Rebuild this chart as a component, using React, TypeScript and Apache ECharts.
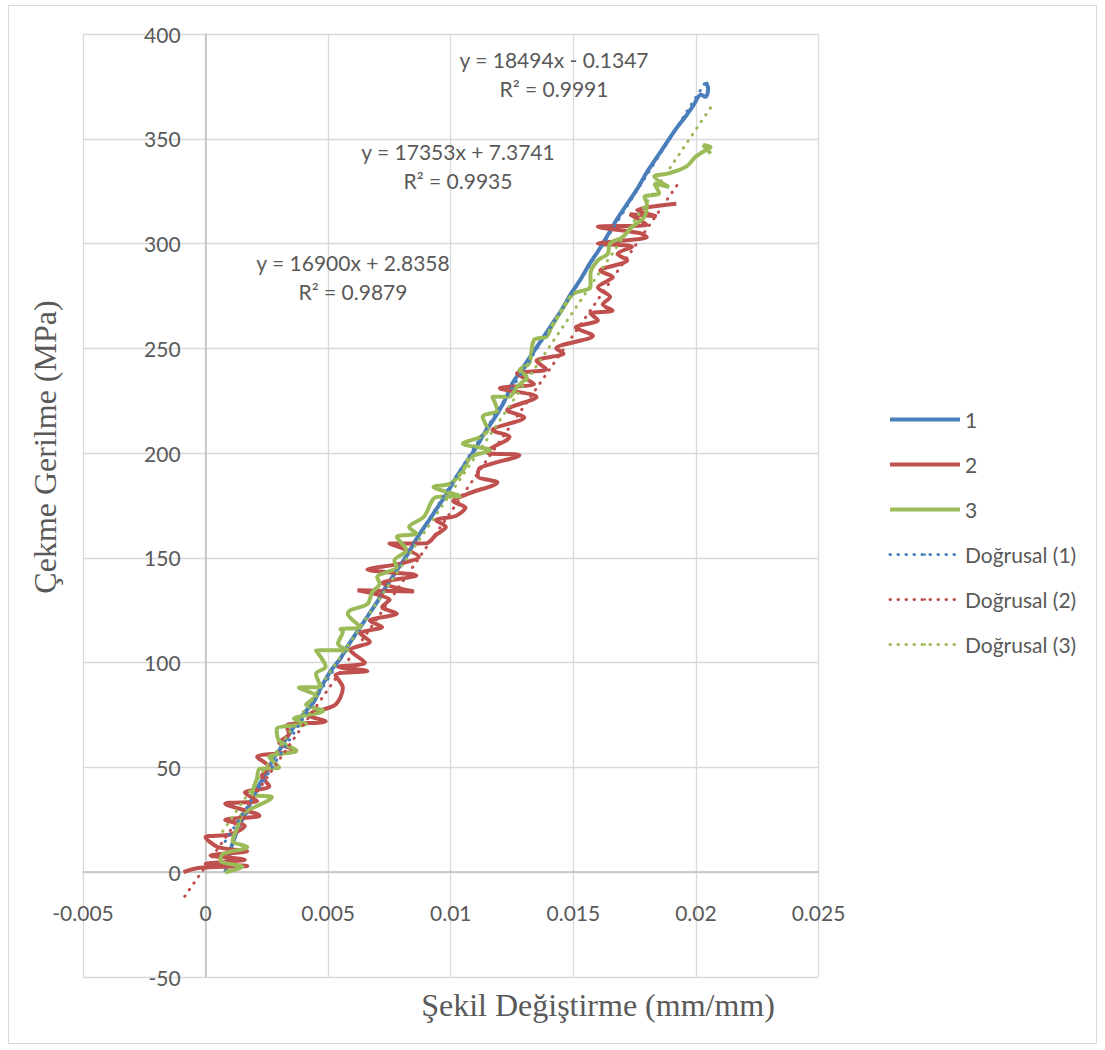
import React, { useEffect, useRef } from "react";
import * as echarts from "echarts";

const seriesNames = ["1", "2", "3"];
const trendNames = ["Doğrusal (1)", "Doğrusal (2)", "Doğrusal (3)"];
const colors = ["#4A7EBB", "#C0504D", "#9BBB59"];

const xTicks = { min: -0.005, max: 0.025, interval: 0.005 };
const yTicks = { min: -50, max: 400, interval: 50 };

const series1: [number, number][] = [
  [0.0008, 0], [0.0009, 4], [0.001, 10], [0.0012, 17], [0.0014, 23], [0.0017, 29.4],
  [0.0019, 35], [0.0022, 42], [0.0025, 48], [0.0028, 55], [0.003, 58], [0.0033, 64],
  [0.0037, 71], [0.0041, 77], [0.0044, 81], [0.0047, 88], [0.0051, 96], [0.0055, 102],
  [0.0058, 108], [0.0062, 115], [0.0066, 122], [0.007, 129], [0.0074, 137], [0.0078, 144],
  [0.0082, 151], [0.0086, 159], [0.009, 166], [0.0094, 173], [0.0098, 180], [0.0102, 188],
  [0.0106, 195], [0.011, 202], [0.0114, 210], [0.0118, 217], [0.0122, 225], [0.0125, 233],
  [0.0129, 240], [0.0133, 247], [0.0137, 254], [0.0141, 261], [0.0145, 268], [0.0149, 276],
  [0.0153, 283], [0.0157, 291], [0.0161, 298], [0.0165, 306], [0.0168, 312], [0.0172, 319],
  [0.0176, 326], [0.018, 334], [0.0184, 341], [0.0188, 348], [0.0192, 355], [0.0196, 361],
  [0.0199, 366], [0.0202, 371], [0.0204, 370], [0.0205, 374], [0.0204, 377],
];

const series2: [number, number][] = [
  [-0.0009, 0], [-0.0003, 2], [0.0017, 3], [0.0, 4], [0.0016, 6], [0.0002, 8],
  [0.0017, 10], [0.0005, 12], [0.0, 16.7], [0.001, 18], [0.0016, 22], [0.0008, 25],
  [0.0022, 27], [0.0008, 32.7], [0.0021, 34], [0.0016, 38], [0.0026, 41], [0.0023, 46],
  [0.0026, 50], [0.0021, 55], [0.0037, 58], [0.003, 62], [0.0034, 66], [0.0033, 70],
  [0.0049, 72], [0.0042, 75], [0.0053, 80], [0.0056, 88], [0.0053, 94], [0.0066, 96],
  [0.0054, 98], [0.0065, 100], [0.0059, 106], [0.0067, 110], [0.0063, 114], [0.0072, 117],
  [0.0067, 120], [0.0078, 123.5], [0.0072, 126.5], [0.0075, 130], [0.0062, 134.5], [0.0085, 134],
  [0.0072, 138], [0.0086, 141.6], [0.0066, 144.4], [0.008, 147.4], [0.0087, 150.4], [0.0075, 156.8],
  [0.009, 157], [0.0094, 161], [0.0098, 164.7], [0.0094, 168], [0.0102, 170], [0.0106, 174],
  [0.0101, 177], [0.0108, 181], [0.0119, 186], [0.0111, 189], [0.0112, 193], [0.0128, 199],
  [0.0115, 200], [0.0116, 202], [0.0124, 207.7], [0.0117, 211], [0.013, 217], [0.0123, 220.5],
  [0.0135, 226.8], [0.012, 231], [0.0134, 233], [0.0127, 238], [0.0139, 240], [0.0135, 244],
  [0.0146, 247.5], [0.0143, 250], [0.0158, 256], [0.0151, 260], [0.016, 263.4], [0.0157, 266.6],
  [0.0166, 268], [0.0162, 271], [0.0165, 274.5], [0.016, 279], [0.0166, 284], [0.0161, 287],
  [0.0172, 292], [0.0168, 295], [0.0174, 298.5], [0.016, 300], [0.018, 303], [0.0177, 305],
  [0.016, 308], [0.018, 309], [0.0173, 314], [0.0184, 313], [0.0176, 316], [0.0192, 319],
];

const series3: [number, number][] = [
  [0.0008, 0], [0.0015, 2.5], [0.0006, 5.5], [0.0007, 8.7], [0.0017, 12], [0.0011, 15],
  [0.0013, 21.4], [0.0015, 27.8], [0.0027, 35.8], [0.0019, 37.4], [0.0021, 45], [0.0022, 49.3],
  [0.003, 50], [0.0026, 55], [0.0037, 58], [0.003, 62.8], [0.0029, 68.4], [0.0041, 70.8],
  [0.0036, 73.2], [0.0048, 77], [0.0041, 80], [0.0045, 84], [0.0038, 88], [0.0047, 88.5],
  [0.0045, 94.7], [0.0049, 98], [0.0045, 105.8], [0.0058, 106], [0.0054, 109], [0.0056, 115],
  [0.0055, 116], [0.0063, 117], [0.0058, 123.4], [0.0059, 125], [0.0066, 128], [0.0068, 133.7],
  [0.0071, 137.7], [0.007, 140.8], [0.0078, 145.6], [0.0077, 148.8], [0.0082, 153.6], [0.0078, 160],
  [0.0086, 161.6], [0.0083, 164.7], [0.0089, 169.5], [0.0094, 179], [0.0104, 179.5], [0.0093, 183.8],
  [0.01, 185.5], [0.0105, 191.8], [0.0108, 198], [0.0116, 201.4], [0.0105, 204.5], [0.0112, 207.7],
  [0.0115, 211], [0.0113, 217.3], [0.0119, 220.5], [0.0117, 226.8], [0.0124, 227], [0.0127, 231.6],
  [0.0131, 236.4], [0.0128, 239.6], [0.0132, 242.8], [0.0134, 254], [0.0139, 255.5], [0.0141, 260],
  [0.0147, 271.4], [0.015, 276], [0.0157, 279.4], [0.0157, 285.8], [0.016, 292], [0.0164, 295],
  [0.0165, 300], [0.017, 303], [0.0174, 308], [0.0179, 312.8], [0.018, 319], [0.0179, 322.3],
  [0.0185, 324], [0.0183, 328.7], [0.0189, 327], [0.0183, 332], [0.0189, 333.5], [0.0196, 336.7],
  [0.02, 341.5], [0.0204, 344.6], [0.0206, 346], [0.0203, 347], [0.0206, 343],
];

// Trendline equations shown on the chart: y = slope * x + intercept
const trendSlopes = [18494, 16900, 17353];
const trendIntercepts = [-0.1347, 2.8358, 7.3741];
const trendXRanges: [number, number][] = [[0.0008, 0.0205], [-0.00085, 0.0193], [0.0007, 0.0207]];
const equationTexts = ["y = 18494x - 0.1347\nR² = 0.9991", "y = 16900x + 2.8358\nR² = 0.9879", "y = 17353x + 7.3741\nR² = 0.9935"];

const xTitle = "Şekil Değiştirme (mm/mm)";
const yTitle = "Çekme Gerilme (MPa)";

const FONT = "Lato, 'Open Sans', sans-serif";
const SERIF = "'Liberation Serif', 'Times New Roman', serif";
const TEXT_COLOR = "#595959";

export default function App() {
  const ref = useRef<HTMLDivElement>(null);
  useEffect(() => {
    if (!ref.current) return;
    const chart = echarts.init(ref.current, undefined, { renderer: "svg" });
    const dataSeries = [series1, series2, series3].map((d, i) => ({
      name: seriesNames[i],
      type: "line",
      data: d,
      showSymbol: false,
      symbol: "none",
      smooth: 0.3,
      lineStyle: { color: colors[i], width: 4 },
      itemStyle: { color: colors[i] },
      z: 2 + i,
    }));
    const trendSeries = trendSlopes.map((m, i) => ({
      name: trendNames[i],
      type: "line",
      data: trendXRanges[i].map((x) => [x, m * x + trendIntercepts[i]]),
      showSymbol: false,
      symbol: "none",
      lineStyle: { color: colors[i], width: 3, type: [0.5, 7.5], cap: "round" },
      itemStyle: { color: colors[i] },
      z: 6,
    }));
    const legendData = [
      ...seriesNames.map((n, i) => ({
        name: n,
        lineStyle: { color: colors[i], width: 4, type: "solid" },
      })),
      ...trendNames.map((n, i) => ({
        name: n,
        lineStyle: { color: colors[i], width: 3, type: [0.5, 7.5], cap: "round" },
      })),
    ];
    const eqPos = [[554, 74], [353, 277], [458, 166]];
    chart.setOption({
      animation: false,
      backgroundColor: "#ffffff",
      grid: { left: 83, right: 286.5, top: 34, bottom: 73, containLabel: false },
      xAxis: {
        type: "value",
        min: xTicks.min,
        max: xTicks.max,
        interval: xTicks.interval,
        offset: -104.8,
        axisLine: { show: true, onZero: false, lineStyle: { color: "#BFBFBF", width: 1.5 } },
        axisTick: { show: false },
        splitLine: { show: true, lineStyle: { color: "#D9D9D9", width: 1.3 } },
        axisLabel: { color: TEXT_COLOR, fontSize: 21, fontFamily: FONT, margin: 30 },
      },
      yAxis: {
        type: "value",
        min: yTicks.min,
        max: yTicks.max,
        interval: yTicks.interval,
        offset: -122.6,
        axisLine: { show: true, onZero: false, lineStyle: { color: "#BFBFBF", width: 1.5 } },
        axisTick: { show: false },
        splitLine: { show: true, lineStyle: { color: "#D9D9D9", width: 1.3 } },
        axisLabel: { color: TEXT_COLOR, fontSize: 21, fontFamily: FONT, margin: 25 },
      },
      legend: {
        orient: "vertical",
        left: 883,
        top: 404,
        itemWidth: 70,
        itemHeight: 3,
        itemGap: 24,
        data: legendData,
        textStyle: { color: TEXT_COLOR, fontSize: 21, fontFamily: FONT, lineHeight: 21 },
      },
      graphic: [
        {
          type: "rect",
          shape: { x: 8.5, y: 5.5, width: 1088, height: 1038 },
          style: { fill: "none", stroke: "#D9D9D9", lineWidth: 1 },
          silent: true,
          z: -10,
        },
        ...equationTexts.map((t, i) => ({
          type: "text",
          x: eqPos[i][0],
          y: eqPos[i][1],
          style: {
            text: t,
            fill: TEXT_COLOR,
            font: `21px ${FONT}`,
            textAlign: "center",
            textVerticalAlign: "middle",
            lineHeight: 29,
          },
          z: 10,
        })),
        {
          type: "text",
          x: 598,
          y: 1005,
          style: {
            text: xTitle,
            fill: TEXT_COLOR,
            font: `32px ${SERIF}`,
            textAlign: "center",
            textVerticalAlign: "middle",
          },
        },
        {
          type: "text",
          x: 45,
          y: 447,
          rotation: Math.PI / 2,
          style: {
            text: yTitle,
            fill: TEXT_COLOR,
            font: `32px ${SERIF}`,
            textAlign: "center",
            textVerticalAlign: "middle",
          },
        },
      ],
      series: [...dataSeries, ...trendSeries],
    });
    return () => chart.dispose();
  }, []);
  return (
    <div
      ref={ref}
      style={{ position: "absolute", left: 0, top: 0, width: 1105, height: 1050 }}
    />
  );
}
